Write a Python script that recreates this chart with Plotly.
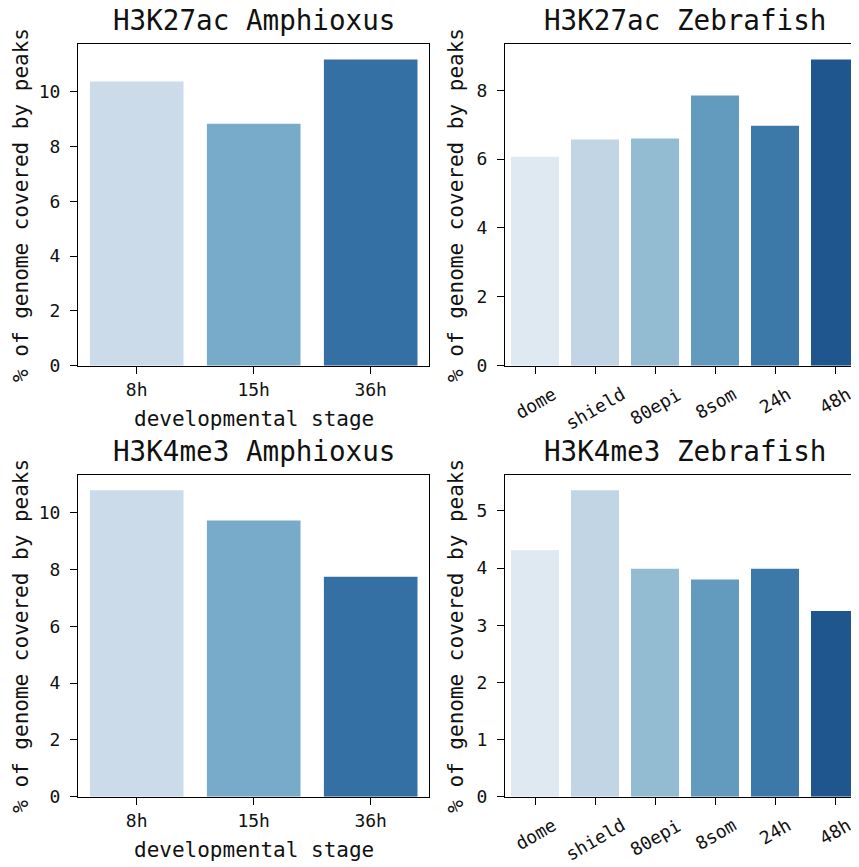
import plotly.graph_objects as go

W, H = 859, 867
OFF = 8  # page body margin offset

# ---- data ----
amph_stages = ["8h", "15h", "36h"]
zf_stages = ["dome", "shield", "80epi", "8som", "24h", "48h"]
amph_h3k27ac = [10.38, 8.84, 11.18]
zf_h3k27ac = [6.07, 6.57, 6.60, 7.85, 6.97, 8.89]
amph_h3k4me3 = [10.79, 9.73, 7.75]
zf_h3k4me3 = [4.31, 5.36, 3.99, 3.80, 3.99, 3.25]

amph_colors = ["#cbdbea", "#78abc9", "#3470a3"]
zf_colors = ["#dee9f2", "#c1d5e5", "#93bbd2", "#639bbe", "#3c78a8", "#1e568d"]

titles = ["H3K27ac Amphioxus", "H3K27ac Zebrafish", "H3K4me3 Amphioxus", "H3K4me3 Zebrafish"]
ylabel = "% of genome covered by peaks"
xlabel = "developmental stage"

FONT = "DejaVu Sans Mono"
INK = "#000000"
TXT = "#111111"


def px_x(v):
    return (v - OFF) / W


def px_y(v):
    return 1 - (v - OFF) / H


panels = [
    dict(cats=amph_stages, vals=amph_h3k27ac, colors=amph_colors, x0=78.2, x1=429.2, y0=44.3, y1=365.7,
         xr=[-0.5, 2.5], dtick=2, rot=False, tcx=253.7),
    dict(cats=zf_stages, vals=zf_h3k27ac, colors=zf_colors, x0=505, x1=865, y0=44.3, y1=365.7,
         xr=[-0.5, 5.5], dtick=2, rot=True, tcx=685),
    dict(cats=amph_stages, vals=amph_h3k4me3, colors=amph_colors, x0=78.2, x1=429.2, y0=475, y1=796.7,
         xr=[-0.5, 2.5], dtick=2, rot=False, tcx=253.7),
    dict(cats=zf_stages, vals=zf_h3k4me3, colors=zf_colors, x0=505, x1=865, y0=475, y1=796.7,
         xr=[-0.5, 5.5], dtick=1, rot=True, tcx=685),
]

fig = go.Figure()
annotations = []
layout = {}

for i, p in enumerate(panels):
    n = i + 1
    xa = "x" if n == 1 else f"x{n}"
    ya = "y" if n == 1 else f"y{n}"
    fig.add_trace(go.Bar(
        x=p["cats"], y=p["vals"], marker=dict(color=p["colors"], line=dict(width=0)),
        width=0.8, xaxis=xa, yaxis=ya, showlegend=False,
    ))
    ymax = max(p["vals"]) * 1.05
    xkey = "xaxis" if n == 1 else f"xaxis{n}"
    ykey = "yaxis" if n == 1 else f"yaxis{n}"
    layout[xkey] = dict(
        domain=[px_x(p["x0"]), px_x(p["x1"])], anchor=ya, type="category",
        range=p["xr"], showline=True, linecolor=INK, linewidth=1.3, mirror=True,
        ticks="outside", ticklen=7, tickwidth=1.3, tickcolor=INK, automargin=False,
        showgrid=False, zeroline=False, showticklabels=not p["rot"],
        tickfont=dict(family=FONT, size=18, color=TXT), ticklabelstandoff=1,
    )
    layout[ykey] = dict(
        domain=[px_y(p["y1"]), px_y(p["y0"])], anchor=xa, automargin=False,
        range=[0, ymax], showline=True, linecolor=INK, linewidth=1.3,
        mirror=True, ticks="outside", ticklen=7, tickwidth=1.3, tickcolor=INK,
        showgrid=False, zeroline=False, dtick=p["dtick"], tick0=0,
        tickfont=dict(family=FONT, size=18, color=TXT), ticklabelstandoff=6,
    )
    # panel title
    annotations.append(dict(
        text=titles[i], xref="paper", yref="paper", x=px_x(p["tcx"]), y=px_y(p["y0"] - 24),
        xanchor="center", yanchor="middle", showarrow=False, borderpad=0,
        font=dict(family=FONT, size=27.6, color=TXT),
    ))
    # y title
    ytx = 21 if p["x0"] < 200 else 456
    annotations.append(dict(
        text=ylabel, xref="paper", yref="paper", x=px_x(ytx), y=px_y((p["y0"] + p["y1"]) / 2),
        xanchor="center", yanchor="middle", textangle=-90, showarrow=False,
        font=dict(family=FONT, size=21, color=TXT),
    ))
    if p["rot"]:
        for c in p["cats"]:
            annotations.append(dict(
                text=c, xref=xa, yref="paper", x=c, y=px_y(p["y1"] + 15),
                xanchor="center", yanchor="top", textangle=-30, showarrow=False,
                font=dict(family=FONT, size=18, color=TXT),
            ))
    else:
        annotations.append(dict(
            text=xlabel, xref="paper", yref="paper", x=px_x(p["tcx"]), y=px_y(p["y1"] + 53),
            xanchor="center", yanchor="middle", showarrow=False,
            font=dict(family=FONT, size=21, color=TXT),
        ))

fig.update_layout(
    template="none",
    width=W, height=H, margin=dict(l=0, r=0, t=0, b=0),
    paper_bgcolor="white", plot_bgcolor="white",
    annotations=annotations, bargap=0.2, **layout,
)

fig.write_html("out.html")
